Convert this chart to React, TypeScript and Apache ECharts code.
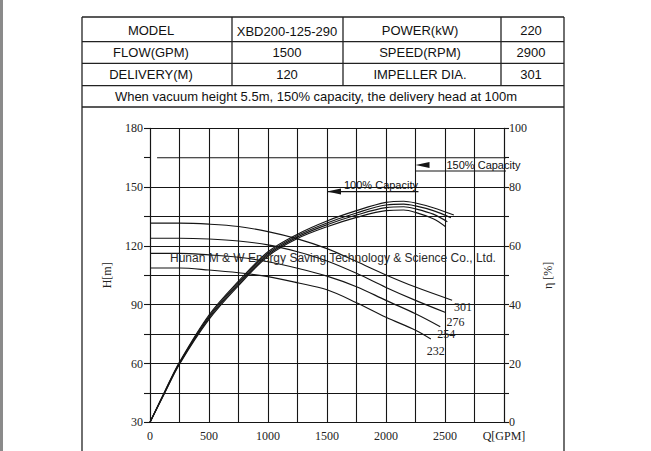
import React, { useEffect, useRef } from 'react';
import * as echarts from 'echarts';

// ---- table texts ----
const tableRow1 = ['MODEL', 'XBD200-125-290', 'POWER(kW)', '220'];
const tableRow2 = ['FLOW(GPM)', '1500', 'SPEED(RPM)', '2900'];
const tableRow3 = ['DELIVERY(M)', '120', 'IMPELLER DIA.', '301'];
const tableNote = 'When vacuum height 5.5m, 150% capacity, the delivery head at 100m';
const watermark = 'Hunan M & W Energy Saving Technology & Science Co., Ltd.';

// ---- curves ----
const diameters = ['301', '276', '254', '232'];
const head301 = [[0, 131.6], [250, 131.6], [500, 131.1], [750, 129.9], [1000, 127.3], [1250, 123.6], [1500, 118.6], [1750, 112], [2000, 105.2], [2250, 99], [2560, 92.3]];
const head276 = [[0, 123.9], [250, 123.9], [500, 123.5], [750, 122.5], [1000, 120.5], [1250, 117], [1500, 112.3], [1750, 106], [2000, 98.8], [2250, 92.2], [2505, 86]];
const head254 = [[0, 116.2], [250, 116.2], [500, 115.4], [750, 114.2], [1000, 111.9], [1250, 108.6], [1500, 104.6], [1750, 99.2], [2000, 92.2], [2250, 85.4], [2460, 78.8]];
const head232 = [[0, 108.7], [250, 108.7], [500, 107.7], [750, 106.3], [1000, 104.3], [1250, 101.2], [1500, 97.6], [1750, 91], [2000, 83.6], [2250, 77], [2380, 72.5]];

const eff301 = [[0, 0], [125, 10.5], [250, 20.5], [500, 36.5], [750, 48], [1000, 58], [1250, 64], [1500, 68.5], [1750, 72], [2000, 74.8], [2150, 75.2], [2250, 74.6], [2400, 73], [2575, 70.5]];
const eff276 = [[0, 0], [125, 10.3], [250, 20.2], [500, 36], [750, 47.5], [1000, 57.5], [1250, 63.5], [1500, 67.8], [1750, 71.2], [2000, 73.9], [2150, 74.2], [2250, 73.6], [2400, 72], [2550, 69.6]];
const eff254 = [[0, 0], [125, 10.2], [250, 20], [500, 35.5], [750, 47], [1000, 57], [1250, 63], [1500, 67.2], [1750, 70.5], [2000, 73], [2150, 73.3], [2250, 72.6], [2400, 70.8], [2520, 68.2]];
const eff232 = [[0, 0], [125, 10], [250, 19.8], [500, 35], [750, 46.5], [1000, 56.5], [1250, 62.5], [1500, 66.5], [1750, 69.7], [2000, 72], [2150, 72.2], [2250, 71.4], [2400, 69.2], [2505, 66.5]];

// ---- annotations ----
const refLine165 = [[60, 165], [3160, 165]];
const cap100Line = [[1500, 147.7], [2275, 147.7]];
const cap100Arrow = [[1500, 147.7]];
const cap150Line = [[2250, 158.2], [3360, 158.2]];
const cap150Arrow = [[2250, 161.3]];
const capLabels = ['100% Capacity', '150% Capacity'];

const xAxisName = 'Q[GPM]';
const yLeftName = 'H[m]';
const yRightName = 'η [%]';

const INK = '#151515';
const SERIF = '"Liberation Serif", "DejaVu Serif", serif';
const SANS = '"Liberation Sans", Arial, sans-serif';

export default function App() {
  const ref = useRef<HTMLDivElement>(null);
  useEffect(() => {
    if (!ref.current) return;
    const chart = echarts.init(ref.current, undefined, { renderer: 'svg' });

    const colX = [82, 232, 343, 501, 564];
    const rowY = [17, 41.7, 63.3, 85.7, 107];
    const textX = [151, 287, 420, 531];
    const textY = [30, 52, 74];
    const graphic: any[] = [];
    graphic.push({ type: 'rect', shape: { x: 0, y: 0, width: 3, height: 451 }, style: { fill: '#8a8a8a' }, silent: true });
    const ls = { stroke: '#222', lineWidth: 1.3 };
    graphic.push({ type: 'line', shape: { x1: colX[0], y1: rowY[0], x2: colX[0], y2: 451 }, style: ls });
    graphic.push({ type: 'line', shape: { x1: colX[4], y1: rowY[0], x2: colX[4], y2: 451 }, style: ls });
    rowY.forEach((y) => graphic.push({ type: 'line', shape: { x1: colX[0], y1: y, x2: colX[4], y2: y }, style: ls }));
    [1, 2, 3].forEach((i) => graphic.push({ type: 'line', shape: { x1: colX[i], y1: rowY[0], x2: colX[i], y2: rowY[3] }, style: ls }));
    [tableRow1, tableRow2, tableRow3].forEach((row, r) => {
      row.forEach((t, c) => {
        graphic.push({ type: 'text', x: textX[c], y: textY[r] + (c === 1 && r === 0 ? 1.5 : 0), style: { text: t, fill: '#111', font: `13px ${SANS}`, align: 'center', verticalAlign: 'middle' } });
      });
    });
    graphic.push({ type: 'text', x: 316, y: 96.5, style: { text: tableNote, fill: '#111', font: `13px ${SANS}`, align: 'center', verticalAlign: 'middle' } });
    graphic.push({ type: 'text', x: 170, y: 258, z: 100, style: { text: watermark, fill: '#2a2a2a', font: `12px ${SANS}`, align: 'left', verticalAlign: 'middle' } });

    const heads = [head301, head276, head254, head232];
    const effs = [eff301, eff276, eff254, eff232];
    const labelOffsets = [[11, 7], [10, 9.5], [6, 7], [5, 11.5]];
    const lineStyle = { color: INK, width: 1.15 };

    const series: any[] = [];
    heads.forEach((d, i) => {
      series.push({
        type: 'line', name: 'H' + diameters[i], data: d, yAxisIndex: 0, smooth: 0.35,
        symbol: 'none', lineStyle, silent: true,
        endLabel: { show: true, formatter: diameters[i], color: '#222', fontFamily: SERIF, fontSize: 12, distance: 0, align: 'center', verticalAlign: 'middle', offset: labelOffsets[i] },
      });
    });
    effs.forEach((d, i) => {
      series.push({ type: 'line', name: 'E' + diameters[i], data: d, yAxisIndex: 1, smooth: 0.35, symbol: 'none', lineStyle, silent: true });
    });
    [refLine165, cap100Line, cap150Line].forEach((d) => {
      series.push({ type: 'line', data: d, yAxisIndex: 0, symbol: 'none', clip: false, lineStyle, silent: true });
    });
    const arrowSym = 'path://M0,5 L20,0 L20,10 Z';
    series.push({
      type: 'scatter', data: cap100Arrow, yAxisIndex: 0, symbol: arrowSym, symbolSize: [14, 6], symbolOffset: [7, 0],
      itemStyle: { color: INK, opacity: 1 }, silent: true, z: 5,
      label: { show: true, formatter: capLabels[0], position: 'right', distance: 3, offset: [0, -7], color: '#111', opacity: 1, fontFamily: SANS, fontSize: 11, textBorderWidth: 0 },
    });
    series.push({
      type: 'scatter', data: cap150Arrow, yAxisIndex: 0, symbol: arrowSym, symbolSize: [14, 6], symbolOffset: [7, 0],
      itemStyle: { color: INK, opacity: 1 }, silent: true, z: 5,
      label: { show: true, formatter: capLabels[1], position: 'right', distance: 17, offset: [0, 0], color: '#111', opacity: 1, fontFamily: SANS, fontSize: 11, textBorderWidth: 0 },
    });

    const splitColors: string[] = [];
    for (let v = 30; v <= 180; v += 15) splitColors.push(v === 165 ? 'rgba(0,0,0,0)' : INK);

    chart.setOption({
      animation: false,
      backgroundColor: '#fff',
      graphic,
      grid: { left: 150, right: 147, top: 128.3, bottom: 28.7, containLabel: false },
      xAxis: {
        type: 'value', min: 0, max: 3000, interval: 250,
        axisLine: { show: true, lineStyle: { color: INK, width: 1.1 } },
        axisTick: { show: false },
        splitLine: { show: true, lineStyle: { color: INK, width: 1.1 } },
        axisLabel: {
          margin: 8, color: '#222', fontFamily: SERIF, fontSize: 12, showMinLabel: true, showMaxLabel: true,
          formatter: (v: number) => (v === 3000 ? xAxisName : v % 500 === 0 ? String(v) : ''),
        },
      },
      yAxis: [
        {
          type: 'value', min: 30, max: 180, interval: 15, position: 'left',
          name: yLeftName, nameLocation: 'middle', nameGap: 37, nameRotate: 90,
          nameTextStyle: { color: '#222', fontFamily: SERIF, fontSize: 12 },
          axisLine: { show: true, lineStyle: { color: INK, width: 1.1 } },
          axisTick: { show: true, length: 6, inside: false, lineStyle: { color: INK, width: 1.1 } },
          splitLine: { show: true, lineStyle: { color: splitColors, width: 1.1 } },
          axisLabel: {
            margin: 7, color: '#222', fontFamily: SERIF, fontSize: 12, showMinLabel: true, showMaxLabel: true,
            formatter: (v: number) => (v % 30 === 0 ? String(v) : ''),
          },
        },
        {
          type: 'value', min: 0, max: 100, interval: 10, position: 'right',
          name: yRightName, nameLocation: 'middle', nameGap: 38, nameRotate: 90,
          nameTextStyle: { color: '#222', fontFamily: SERIF, fontSize: 12 },
          axisLine: { show: true, lineStyle: { color: INK, width: 1.1 } },
          axisTick: { show: true, length: 5, inside: false, lineStyle: { color: INK, width: 1.1 } },
          splitLine: { show: false },
          axisLabel: {
            margin: 5, color: '#222', fontFamily: SERIF, fontSize: 12, showMinLabel: true, showMaxLabel: true,
            formatter: (v: number) => (v % 20 === 0 ? String(v) : ''),
          },
        },
      ],
      series,
    });
    return () => chart.dispose();
  }, []);
  return <div ref={ref} style={{ position: 'fixed', left: 0, top: 0, width: 651, height: 451, background: '#fff' }} />;
}
